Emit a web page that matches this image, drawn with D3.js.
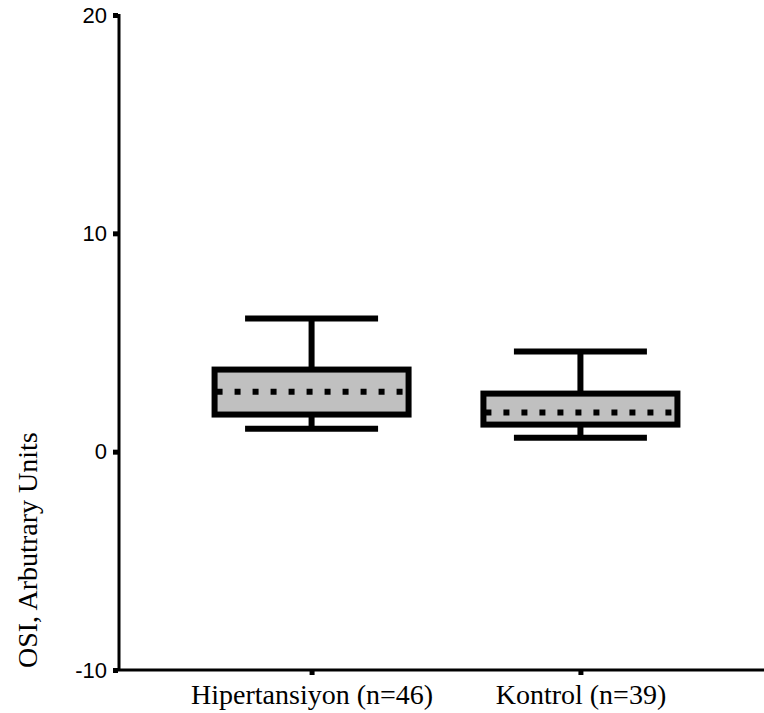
<!DOCTYPE html>
<html>
<head>
<meta charset="utf-8">
<script src="https://cdn.jsdelivr.net/npm/d3@7"></script>
<style>
  body { margin: 0; background: #fff; }
  svg { display: block; }
</style>
</head>
<body>
<svg id="chart" width="764" height="713"></svg>
<script>
// values
const categories = ["Hipertansiyon (n=46)", "Kontrol (n=39)"];
const whiskerLow = [1.05, 0.64];
const q1 = [1.70, 1.24];
const median = [2.75, 1.79];
const q3 = [3.76, 2.66];
const whiskerHigh = [6.1, 4.59];
const yTicks = [-10, 0, 10, 20];

const svg = d3.select('#chart');
const width = 764, height = 713;
const margin = { top: 15, right: 0, bottom: 43, left: 118 };

const y = d3.scaleLinear()
    .domain([-10, 20])
    .range([height - margin.bottom, margin.top]);

const x = d3.scalePoint()
    .domain(categories)
    .range([margin.left, width + 10])
    .padding(0.72);

const boxW = 194, capW = 133;
const data = categories.map((c, i) => ({
    cat: c, lo: whiskerLow[i], q1: q1[i], med: median[i], q3: q3[i], hi: whiskerHigh[i]
}));

// y axis
const yAxis = svg.append('g')
    .attr('transform', `translate(${margin.left},0)`)
    .call(d3.axisLeft(y).tickValues(yTicks).tickFormat(d => String(d))
        .tickSize(5).tickSizeOuter(0).tickPadding(6));
yAxis.select('.domain').remove();
yAxis.selectAll('.tick line').attr('stroke', '#000').attr('stroke-width', 5);
yAxis.selectAll('.tick text')
    .attr('font-family', 'Liberation Sans, Arial, sans-serif')
    .attr('font-size', 22)
    .attr('fill', '#000');
svg.append('line')
    .attr('x1', margin.left + 1).attr('x2', margin.left + 1)
    .attr('y1', y(20) - 1).attr('y2', y(-10) + 1)
    .attr('stroke', '#000').attr('stroke-width', 3);

// x axis
const xAxis = svg.append('g')
    .attr('transform', `translate(0,${y(-10)})`)
    .call(d3.axisBottom(x).tickSize(5).tickSizeOuter(0).tickPadding(9));
xAxis.select('.domain').remove();
xAxis.selectAll('.tick line').attr('stroke', '#000').attr('stroke-width', 5);
xAxis.selectAll('.tick text')
    .attr('font-family', 'Liberation Serif, Times New Roman, serif')
    .attr('font-size', 28)
    .attr('fill', '#000');
svg.append('line')
    .attr('x1', margin.left).attr('x2', width)
    .attr('y1', y(-10)).attr('y2', y(-10))
    .attr('stroke', '#000').attr('stroke-width', 3);

// y axis title, starts level with the bottom axis
svg.append('text')
    .attr('transform', `translate(37,${y(-10) - 2}) rotate(-90)`)
    .attr('text-anchor', 'start')
    .attr('font-family', 'Liberation Serif, Times New Roman, serif')
    .attr('font-size', 28)
    .text('OSI, Arbutrary Units');

// boxes
const g = svg.append('g').selectAll('g').data(data).join('g');

g.append('line')
    .attr('x1', d => x(d.cat)).attr('x2', d => x(d.cat))
    .attr('y1', d => y(d.hi)).attr('y2', d => y(d.q3))
    .attr('stroke', '#000').attr('stroke-width', 6);
g.append('line')
    .attr('x1', d => x(d.cat)).attr('x2', d => x(d.cat))
    .attr('y1', d => y(d.q1)).attr('y2', d => y(d.lo))
    .attr('stroke', '#000').attr('stroke-width', 6);
g.append('line')
    .attr('x1', d => x(d.cat) - capW / 2).attr('x2', d => x(d.cat) + capW / 2)
    .attr('y1', d => y(d.hi)).attr('y2', d => y(d.hi))
    .attr('stroke', '#000').attr('stroke-width', 6);
g.append('line')
    .attr('x1', d => x(d.cat) - capW / 2).attr('x2', d => x(d.cat) + capW / 2)
    .attr('y1', d => y(d.lo)).attr('y2', d => y(d.lo))
    .attr('stroke', '#000').attr('stroke-width', 6);

g.append('rect')
    .attr('x', d => x(d.cat) - boxW / 2)
    .attr('width', boxW)
    .attr('y', d => y(d.q3))
    .attr('height', d => y(d.q1) - y(d.q3))
    .attr('fill', '#c0c0c0')
    .attr('stroke', '#000')
    .attr('stroke-width', 6);

g.append('line')
    .attr('x1', d => x(d.cat) - boxW / 2 + 2).attr('x2', d => x(d.cat) + boxW / 2 - 2)
    .attr('y1', d => y(d.med)).attr('y2', d => y(d.med))
    .attr('stroke', '#000').attr('stroke-width', 6)
    .attr('stroke-dasharray', '6,12');
</script>
</body>
</html>
